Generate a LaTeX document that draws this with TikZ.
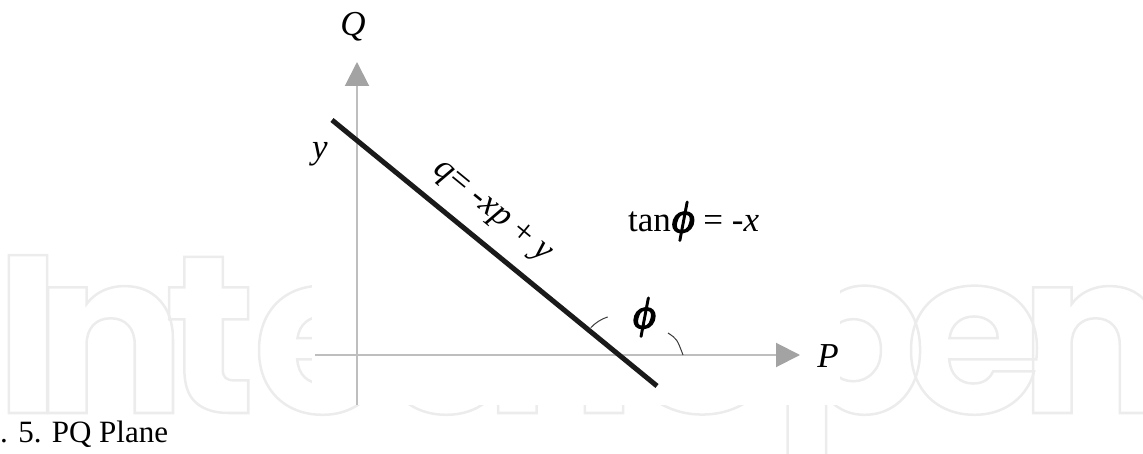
\RequirePackage{fix-cm}
\documentclass[tikz,border=0pt]{standalone}
\usepackage{fontspec}
\usepackage{amsmath}
\usepackage{bm}
\setmainfont{Liberation Serif}
\newfontfamily\wmfont{Poppins}
\usetikzlibrary{arrows.meta}
\definecolor{axisgray}{HTML}{BEBEBE}
\definecolor{tipgray}{HTML}{A3A3A3}
\definecolor{wmgray}{HTML}{ECECEC}
\definecolor{linedark}{HTML}{1A1A1A}
\newcommand{\outlinetext}[1]{\special{pdf:literal direct 1 Tr 2.5 w 0.925 0.925 0.925 RG}#1\special{pdf:literal direct 0 Tr}}
\newcommand{\fakebold}[1]{\special{pdf:literal direct 2 Tr 1.4 w 0 0 0 RG}#1\special{pdf:literal direct 0 Tr}}
\newcommand{\bphi}{\scalebox{0.95}[1.25]{\fakebold{$\bm{\phi}$}}}
\begin{document}
\begin{tikzpicture}[x=1pt,y=-1pt,
  wm/.style={anchor=base,inner sep=0pt,font=\wmfont\bfseries\fontsize{225}{225}\selectfont,text=wmgray},
  lbl/.style={inner sep=0pt,font=\fontsize{35}{35}\selectfont},
  caption/.style={inner sep=0pt,anchor=base west,font=\fontsize{31}{31}\selectfont},
  axisline/.style={draw=axisgray,line width=2pt,-{Triangle[length=24pt,width=24pt,color=tipgray]}},
  mainline/.style={draw=linedark,line width=5pt},
  anglearc/.style={draw=linedark!85,line width=1pt}]
\useasboundingbox (0,0) rectangle (1143,454);
% watermark
\node[wm] (w1) at (28,413) {\outlinetext{I}};
\node[wm] (w2) at (110,413) {\outlinetext{n}};
\node[wm] (w3) at (210,413) {\outlinetext{t}};
\node[wm] (w4) at (322,413) {\outlinetext{e}};
\node[wm] (w5) at (445,413) {\outlinetext{c}};
\node[wm] (w6) at (560,413) {\outlinetext{h}};
\node[wm] (w7) at (702,413) {\outlinetext{O}};
\node[wm] (w8) at (850,413) {\outlinetext{p}};
\node[wm] (w9) at (974,413) {\outlinetext{e}};
\node[wm] (w10) at (1095,413) {\outlinetext{n}};
\fill[white] (312,0) rectangle (840,405);
% axes
\coordinate (qo) at (357,405);
\coordinate (qt) at (357,62);
\coordinate (po) at (315,355);
\coordinate (pt) at (800,355);
\draw[axisline] (qo) -- (qt);
\draw[axisline] (po) -- (pt);
% main line
\coordinate (ls) at (332,120);
\coordinate (le) at (657,386);
\draw[mainline] (ls) -- (le);
% angle marks
\coordinate (X) at (620,355);
\draw[anglearc] (X) ++(-137:40) arc[start angle=-137,end angle=-108,radius=40];
\coordinate (ra) at (668,333);
\coordinate (rb) at (683,355);
\draw[anglearc] (ra) .. controls (677,339) .. (rb);
% labels
\node[lbl,anchor=base] (Q) at (353,36) {\textit{Q}};
\node[lbl,anchor=base] (yl) at (320,159) {\textit{y}};
\node[lbl,anchor=base] (P) at (828,367) {\textit{P}};
\node[lbl,rotate=-39.3] (eq) at (492,212) {\textit{q}= -\textit{xp} + \textit{y}};
\node[lbl,anchor=base west] (tan) at (628,232) {tan\bphi\ = -\textit{x}};
\node[lbl] (phi) at (644,317) {\bphi};
\node[caption] (cap) at (0,442) {. 5. PQ Plane};
\end{tikzpicture}
\end{document}
